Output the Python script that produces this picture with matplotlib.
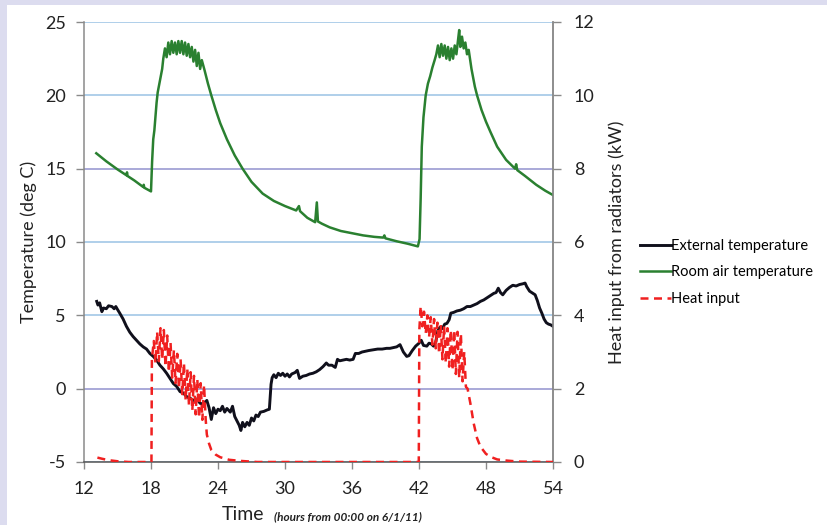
import matplotlib
matplotlib.use("Agg")
import matplotlib.pyplot as plt
from matplotlib.patches import Rectangle

plt.rcParams['font.family'] = ['Lato', 'DejaVu Sans']
plt.rcParams['axes.unicode_minus'] = False

# ---------------- data ----------------
ext_t = [13.14, 13.25, 13.4, 13.6, 13.75, 14.0, 14.2, 14.5, 14.7, 14.85, 15.0, 15.2, 15.5, 15.8,
         16.1, 16.4, 16.7, 17.0, 17.3, 17.6, 17.9, 18.2, 18.5, 18.8, 19.1, 19.4, 19.7, 20.0, 20.3,
         20.6, 20.9, 21.2, 21.5, 21.8, 22.1, 22.4, 22.7, 23.0, 23.2, 23.4, 23.6, 23.8, 24.0, 24.2,
         24.4, 24.6, 24.8, 25.1, 25.3, 25.5, 25.7, 25.9, 26.05, 26.2, 26.4, 26.6, 26.8, 27.0, 27.2,
         27.4, 27.6, 27.8, 28.1, 28.4, 28.6, 28.75, 28.85, 29.0, 29.2, 29.4, 29.6, 29.8, 30.0, 30.2,
         30.4, 30.6, 30.9, 31.1, 31.3, 31.6, 31.9, 32.2, 32.5, 32.8, 33.1, 33.4, 33.7, 33.9, 34.2,
         34.5, 34.7, 34.9, 35.2, 35.5, 35.8, 36.1, 36.3, 36.6, 36.9, 37.2, 37.5, 37.9, 38.3, 38.7,
         39.1, 39.4, 39.7, 40.0, 40.3, 40.6, 40.9, 41.1, 41.4, 41.7, 42.0, 42.2, 42.4, 42.7, 42.9,
         43.1, 43.3, 43.5, 43.7, 43.9, 44.1, 44.3, 44.5, 44.7, 44.85, 45.1, 45.4, 45.7, 46.0, 46.3,
         46.6, 46.9, 47.2, 47.5, 47.8, 48.1, 48.4, 48.7, 48.9, 49.1, 49.3, 49.5, 49.8, 50.1, 50.4,
         50.7, 51.0, 51.3, 51.5, 51.65, 51.9, 52.1, 52.4, 52.6, 52.8, 53.0, 53.2, 53.4, 53.6, 53.8,
         54.0]
ext_temp = [5.95, 5.7, 5.85, 5.25, 5.5, 5.45, 5.65, 5.6, 5.45, 5.6, 5.4, 5.15, 4.75, 4.25,
            3.85, 3.55, 3.3, 3.05, 2.85, 2.7, 2.4, 2.2, 1.95, 1.6, 1.35, 1.05, 0.7, 0.35, 0.15,
            -0.2, -0.3, -0.55, -0.65, -0.8, -0.7, -1.0, -1.05, -0.8, -1.3, -2.1, -1.3, -1.7, -1.4, -1.5,
            -1.2, -1.6, -1.35, -1.6, -1.2, -1.9, -2.2, -2.5, -2.85, -2.3, -2.6, -2.3, -2.5, -2.0, -2.2,
            -1.8, -1.9, -1.6, -1.55, -1.45, -1.4, 0.3, 0.75, 0.95, 0.75, 1.05, 0.9, 1.05, 0.85, 1.0,
            0.8, 1.0, 1.1, 1.25, 0.7, 0.85, 0.9, 1.0, 1.05, 1.15, 1.3, 1.5, 1.75, 1.6, 1.6,
            1.45, 2.0, 1.9, 1.95, 2.0, 1.95, 2.0, 2.4, 2.4, 2.5, 2.55, 2.6, 2.65, 2.7, 2.7,
            2.75, 2.75, 2.8, 2.85, 3.0, 2.5, 2.2, 2.25, 2.6, 2.9, 3.1, 3.3, 2.95, 2.9, 3.1,
            3.05, 2.9, 3.2, 4.0, 4.2, 4.1, 4.4, 4.45, 4.7, 5.15, 5.2, 5.3, 5.35, 5.45, 5.6,
            5.6, 5.7, 5.8, 5.95, 6.05, 6.2, 6.35, 6.5, 6.55, 6.85, 6.55, 6.4, 6.7, 6.9, 7.05,
            7.0, 7.1, 7.15, 7.2, 6.95, 6.65, 6.55, 6.4, 6.0, 5.5, 5.15, 4.75, 4.5, 4.4, 4.35,
            4.25]

room_t = [13.1, 14.0, 15.0, 15.8, 15.85, 15.9, 16.5, 17.3, 17.35, 17.4, 18.0, 18.1, 18.2, 18.3,
          18.5, 18.6, 18.8, 19.0, 19.1, 19.25, 19.4, 19.55, 19.7, 19.85, 20.0, 20.15, 20.3, 20.45,
          20.6, 20.75, 20.9, 21.05, 21.2, 21.35, 21.5, 21.65, 21.8, 21.95, 22.1, 22.25, 22.4, 22.55,
          22.8, 23.1, 23.4, 23.8, 24.2, 24.8, 25.5, 26.2, 27.0, 28.0, 29.0, 30.0, 31.0, 31.25, 31.35,
          32.0, 32.7, 32.85, 32.95, 33.3, 34.0, 35.0, 36.0, 37.0, 38.0, 38.8, 38.9, 39.0, 40.0, 41.0,
          41.9, 42.05, 42.15, 42.25, 42.4, 42.6, 42.8, 43.0, 43.2, 43.4, 43.55, 43.7, 43.85, 44.0,
          44.15, 44.3, 44.45, 44.6, 44.75, 44.9, 45.05, 45.2, 45.35, 45.5, 45.6, 45.7, 45.85, 46.0,
          46.15, 46.3, 46.45, 46.7, 47.0, 47.2, 47.6, 48.0, 48.4, 49.0, 49.8, 50.6, 50.7, 50.8,
          51.5, 52.5, 53.3, 54.0]
room_temp = [16.05, 15.5, 14.95, 14.55, 14.75, 14.5, 14.2, 13.75, 13.9, 13.7, 13.45, 15.5, 17.0, 17.6,
             19.5, 20.2, 21.0, 21.8, 22.5, 23.2, 22.6, 23.6, 22.8, 23.7, 22.9, 23.6, 22.8, 23.7,
             22.9, 23.7, 22.8, 23.6, 22.7, 23.5, 22.6, 23.3, 22.3, 23.1, 22.0, 22.9, 21.8, 22.4,
             21.7, 20.8, 20.0, 19.0, 18.1, 17.0, 15.9, 15.0, 14.1, 13.3, 12.8, 12.45, 12.15, 12.45, 12.1,
             11.65, 11.35, 12.7, 11.4, 11.25, 11.0, 10.75, 10.6, 10.45, 10.35, 10.3, 10.45, 10.25, 10.05, 9.88,
             9.7, 10.2, 13.0, 16.5, 18.5, 20.0, 20.8, 21.3, 21.9, 22.4, 22.8, 23.4, 22.6, 23.5,
             22.7, 23.4, 22.5, 23.3, 22.4, 23.2, 22.5, 23.4, 22.8, 23.8, 24.45, 23.3, 24.0, 23.2,
             23.6, 22.8, 23.1, 21.8, 20.6, 20.0, 19.0, 18.2, 17.5, 16.5, 15.6, 15.0, 15.3, 14.9,
             14.5, 13.9, 13.5, 13.2]

heat_t = [13.2, 13.6, 14.2, 15.0, 16.0, 18.04, 18.08, 18.25, 18.4, 18.55, 18.7, 18.85, 19.0, 19.15,
          19.3, 19.45, 19.6, 19.75, 19.9, 20.05, 20.2, 20.35, 20.5, 20.65, 20.8, 20.95, 21.1, 21.25,
          21.4, 21.55, 21.7, 21.85, 22.0, 22.15, 22.3, 22.45, 22.6, 22.75, 22.9, 23.0, 23.2, 23.4,
          23.8, 24.2, 25.0, 26.0, 27.5, 41.98, 42.03, 42.15, 42.3, 42.45, 42.6, 42.75, 42.9, 43.05,
          43.2, 43.35, 43.5, 43.65, 43.8, 43.95, 44.1, 44.25, 44.4, 44.55, 44.7, 44.85, 45.0, 45.15,
          45.3, 45.45, 45.6, 45.75, 45.9, 46.05, 46.2, 46.35, 46.6, 46.9, 47.2, 47.5, 48.0, 48.5,
          49.0, 49.8, 51.0, 54.0]
heat_kw = [0.12, 0.09, 0.05, 0.02, 0.0, 0.0, 2.8, 3.3, 2.7, 3.55, 2.75, 3.65, 2.8, 3.6,
           2.6, 3.45, 2.45, 3.25, 2.3, 3.05, 2.15, 2.95, 2.0, 2.8, 1.85, 2.7, 1.7, 2.55,
           1.55, 2.45, 1.4, 2.35, 1.3, 2.25, 1.2, 2.15, 1.15, 2.1, 1.15, 0.75, 0.5, 0.33,
           0.2, 0.13, 0.06, 0.03, 0.0, 0.0, 3.6, 4.25, 3.7, 4.1, 3.5, 4.0, 3.4, 3.95,
           3.2, 3.9, 3.1, 3.8, 2.95, 3.75, 2.8, 3.7, 2.7, 3.65, 2.6, 3.6, 2.5, 3.6,
           2.4, 3.55, 2.3, 3.5, 2.2, 3.0, 2.05, 2.0, 1.6, 1.05, 0.65, 0.42, 0.22, 0.13,
           0.07, 0.04, 0.01, 0.0]

x_ticks = [12, 18, 24, 30, 36, 42, 48, 54]
y_ticks_left = [-5, 0, 5, 10, 15, 20, 25]
y_ticks_right = [0, 2, 4, 6, 8, 10, 12]
series_labels = ["External temperature", "Room air temperature", "Heat input"]

# ---------------- figure ----------------
W, H = 828, 525
fig = plt.figure(figsize=(W / 100, H / 100), dpi=100, facecolor='white')
lav = '#dcdcef'
fig.patches.append(Rectangle((0, 1 - 5 / H), 1, 5 / H, transform=fig.transFigure,
                             facecolor=lav, edgecolor='none', zorder=0))
fig.patches.append(Rectangle((0, 0), 7 / W, 1, transform=fig.transFigure,
                             facecolor=lav, edgecolor='none', zorder=0))

ax = fig.add_axes([84 / W, 1 - 462 / H, (553 - 84) / W, (462 - 22) / H])
ax.set_facecolor('white')
ax2 = ax.twinx()

l1, = ax.plot(ext_t, ext_temp, color='#10101c', lw=2.1, zorder=3)
l2, = ax.plot(room_t, room_temp, color='#2a8030', lw=1.8, zorder=3)
l3, = ax2.plot(heat_t, heat_kw, color='#f02020', lw=1.8, dashes=(3.2, 2.2), zorder=3)

ax.set_xlim(12, 54)
ax.set_ylim(-5, 25)
ax2.set_ylim(0, 12)
ax.set_xticks(x_ticks)
ax.set_yticks(y_ticks_left)
ax2.set_yticks(y_ticks_right)

ax.grid(axis='y', color='#a9cbe8', lw=1.3, zorder=0)
ax.set_axisbelow(True)
for val, gl in zip(ax.get_yticks(), ax.yaxis.get_gridlines()):
    if val in (0, 15):
        gl.set_color('#a3a3d6')

for a in (ax, ax2):
    a.spines['top'].set_visible(False)
    a.spines['left'].set_color('#8a8a8a')
    a.spines['right'].set_color('#8a8a8a')
    a.spines['bottom'].set_color('#555555')
    for s in a.spines.values():
        s.set_linewidth(1.1)
ax2.spines['left'].set_visible(False)
ax2.spines['bottom'].set_visible(False)

ax.tick_params(axis='y', direction='out', length=6, width=1, color='#8a8a8a',
               labelsize=13, labelcolor='#222222', pad=7)
ax.tick_params(axis='x', direction='out', length=5, width=1, color='#8a8a8a',
               labelsize=13, labelcolor='#222222', pad=9)
ax2.tick_params(axis='y', direction='out', length=6, width=1, color='#8a8a8a',
                labelsize=13, labelcolor='#222222', pad=9)

ax.set_ylabel("Temperature (deg C)", fontsize=13, color='#222222', labelpad=6)
ax2.set_ylabel("Heat input from radiators (kW)", fontsize=13, color='#222222', labelpad=10)

fig.text(222 / W, 1 - 515 / H, "Time", fontsize=14, color='#222222', va='center', ha='left')
fig.text(274 / W, 1 - 517 / H, "(hours from 00:00 on 6/1/11)", fontsize=8.5, color='#222222',
         va='center', ha='left', style='italic', weight='bold')

fig.legend([l1, l2, l3], series_labels, loc='upper left',
           bbox_to_anchor=(640 / W, 1 - 239 / H), frameon=False, fontsize=10.5,
           handlelength=2.1, handletextpad=0.05, labelspacing=0.85, borderaxespad=0,
           borderpad=0)

fig.savefig("out.png", dpi=100, facecolor=fig.get_facecolor())
